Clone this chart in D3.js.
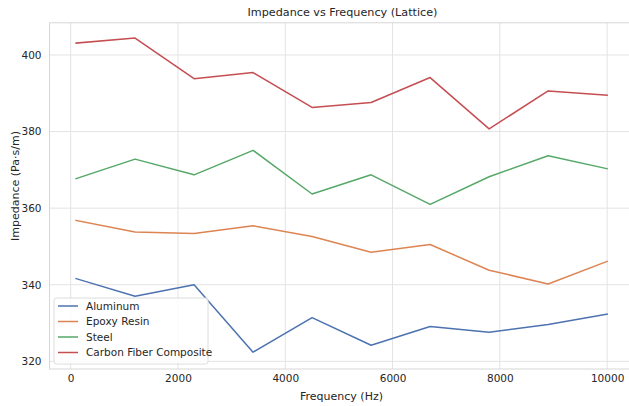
<!DOCTYPE html>
<html>
<head>
<meta charset="utf-8">
<script src="https://cdn.jsdelivr.net/npm/d3@7"></script>
<style>
  body { margin: 0; background: #fff; overflow: hidden; }
  text { font-family: "DejaVu Sans", sans-serif; fill: #262626; }
</style>
</head>
<body>
<div id="chart"></div>
<script>
// data
const freqs = [100, 1200, 2300, 3400, 4500, 5600, 6700, 7800, 8900, 10000];
const materials = ["Aluminum", "Epoxy Resin", "Steel", "Carbon Fiber Composite"];
const aluminum = [341.6, 337.0, 340.0, 322.4, 331.4, 324.2, 329.1, 327.6, 329.6, 332.3];
const epoxy = [356.8, 353.8, 353.4, 355.4, 352.6, 348.5, 350.5, 343.8, 340.2, 346.1];
const steel = [367.7, 372.8, 368.7, 375.1, 363.7, 368.7, 361.0, 368.2, 373.7, 370.3];
const carbon = [403.1, 404.4, 393.8, 395.4, 386.3, 387.6, 394.1, 380.7, 390.6, 389.5];
const xTicks = [0, 2000, 4000, 6000, 8000, 10000];
const yTicks = [320, 340, 360, 380, 400];

const seriesValues = [aluminum, epoxy, steel, carbon];
const colors = ["#4c72b0", "#dd8452", "#55a868", "#c44e52"];

const W = 629, H = 406;
// plot area (right edge runs past the window, like the reference)
const plotLeft = 49.5, plotRight = 633.7, plotTop = 22.8, plotBottom = 369;

const svg = d3.select("#chart").append("svg")
    .attr("width", W)
    .attr("height", H);

const x = d3.scaleLinear().domain([-395, 10495]).range([plotLeft, plotRight]);
const y = d3.scaleLinear().domain([318.0, 408.4]).range([plotBottom, plotTop]);

//grid
svg.append("g")
    .selectAll("line")
    .data(xTicks)
    .join("line")
    .attr("x1", d => x(d)).attr("x2", d => x(d))
    .attr("y1", plotTop).attr("y2", plotBottom)
    .attr("stroke", "#e3e3e3")
    .attr("stroke-width", 1);

svg.append("g")
    .selectAll("line")
    .data(yTicks)
    .join("line")
    .attr("x1", plotLeft).attr("x2", plotRight)
    .attr("y1", d => y(d)).attr("y2", d => y(d))
    .attr("stroke", "#e3e3e3")
    .attr("stroke-width", 1);

//frame
svg.append("rect")
    .attr("x", plotLeft).attr("y", plotTop)
    .attr("width", plotRight - plotLeft).attr("height", plotBottom - plotTop)
    .attr("fill", "none")
    .attr("stroke", "#d6d6d6")
    .attr("stroke-width", 1);

//axes (labels only, seaborn whitegrid has no tick marks)
const xAxis = svg.append("g")
    .attr("transform", `translate(0,${plotBottom})`)
    .call(d3.axisBottom(x).tickValues(xTicks).tickSize(0).tickPadding(6).tickFormat(d3.format("d")));
xAxis.select(".domain").remove();
xAxis.selectAll("text").style("font-size", "10.5px").style("fill", "#262626");

const yAxis = svg.append("g")
    .attr("transform", `translate(${plotLeft},0)`)
    .call(d3.axisLeft(y).tickValues(yTicks).tickSize(0).tickPadding(8));
yAxis.select(".domain").remove();
yAxis.selectAll("text").style("font-size", "10.5px").style("fill", "#262626");

//lines
const line = d3.line()
    .x((d, i) => x(freqs[i]))
    .y(d => y(d));

svg.append("g")
    .selectAll("path")
    .data(seriesValues)
    .join("path")
    .attr("d", d => line(d))
    .attr("fill", "none")
    .attr("stroke", (d, i) => colors[i])
    .attr("stroke-width", 1.5)
    .attr("stroke-linejoin", "round")
    .attr("stroke-linecap", "square");

//title and axis labels
svg.append("text")
    .attr("x", 342.5)
    .attr("y", 16)
    .attr("text-anchor", "middle")
    .style("font-size", "11.2px")
    .text("Impedance vs Frequency (Lattice)");

svg.append("text")
    .attr("x", 341.5)
    .attr("y", 400)
    .attr("text-anchor", "middle")
    .style("font-size", "11px")
    .text("Frequency (Hz)");

svg.append("text")
    .attr("transform", "translate(19,186) rotate(-90)")
    .attr("text-anchor", "middle")
    .style("font-size", "11px")
    .text("Impedance (Pa·s/m)");

//legend
const legend = svg.append("g")
    .attr("transform", "translate(54,298)");

legend.append("rect")
    .attr("width", 154)
    .attr("height", 66)
    .attr("rx", 2.5)
    .attr("fill", "white")
    .attr("fill-opacity", 0.8)
    .attr("stroke", "#dcdcdc");

legend.selectAll("line")
    .data(materials)
    .join("line")
    .attr("x1", 4).attr("x2", 24)
    .attr("y1", (d, i) => 8 + i * 15.5)
    .attr("y2", (d, i) => 8 + i * 15.5)
    .attr("stroke", (d, i) => colors[i])
    .attr("stroke-width", 1.5);

legend.selectAll(".legend-label")
    .data(materials)
    .join("text")
    .attr("class", "legend-label")
    .attr("x", 32)
    .attr("y", (d, i) => 11.8 + i * 15.5)
    .style("font-size", "10.5px")
    .text(d => d);
</script>
</body>
</html>
